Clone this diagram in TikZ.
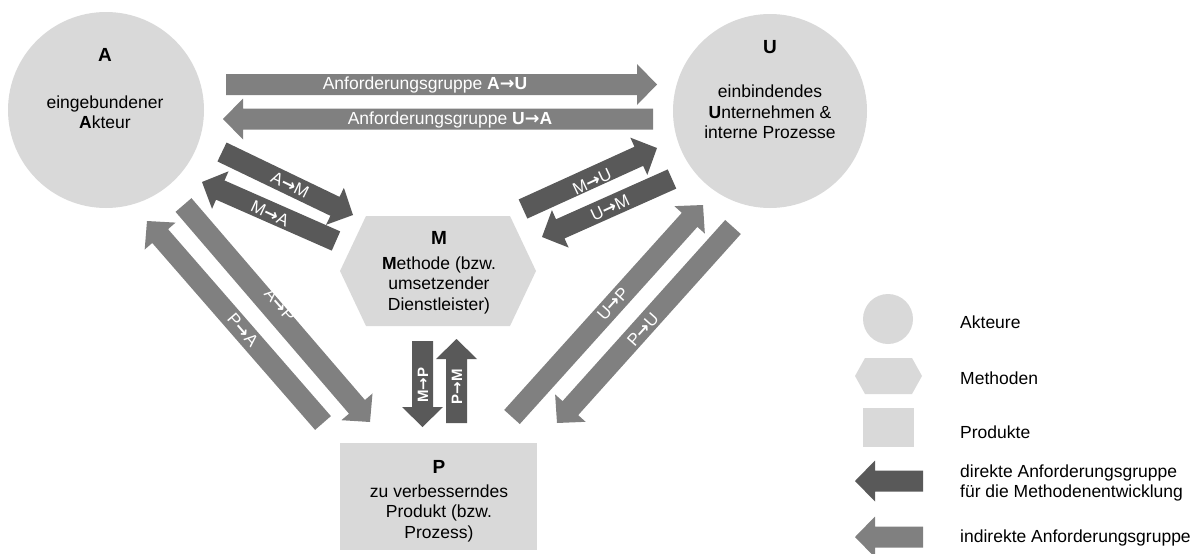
\documentclass[tikz,border=0pt]{standalone}
\usepackage{fontspec}
\setmainfont{Liberation Sans}
\newfontfamily\arrowfont{DejaVu Sans}
\usetikzlibrary{calc}

\definecolor{shapefill}{HTML}{D9D9D9}
\definecolor{directarrow}{HTML}{595959}
\definecolor{indirectarrow}{HTML}{808080}

% arrow glyph used inside the labels
\newcommand\toarrow{{\arrowfont\bfseries →}}

\tikzset{
  bodytext/.style={font=\fontsize{17.5}{20.5}\selectfont, align=center, text=black, inner sep=0pt},
  titletext/.style={font=\bfseries\fontsize{19}{22}\selectfont, text=black, inner sep=0pt},
  arrowlabel/.style={font=\fontsize{17}{18}\selectfont, text=white, inner sep=0pt},
  boldlabel/.style={font=\bfseries\fontsize{15}{18}\selectfont, text=white, inner sep=0pt},
  legendtext/.style={font=\fontsize{17.5}{20.5}\selectfont, align=left, anchor=west, text=black, inner sep=0pt},
}

% block arrow with a 21pt shaft and a 41pt wide, 20pt long head,
% filled with #1, running from coordinate #2 (tail) to #3 (tip)
\newcommand\blockarrow[3]{%
  \fill[#1]
    let \p1 = ($(#3)-(#2)$),
        \n1 = {atan2(\y1,\x1)},
        \p2 = ($(#3)!20pt!(#2)$)
    in ($(#2)+(\n1+90:10.5pt)$)
    -- ($(\p2)+(\n1+90:10.5pt)$)
    -- ($(\p2)+(\n1+90:20.5pt)$)
    -- (#3)
    -- ($(\p2)+(\n1-90:20.5pt)$)
    -- ($(\p2)+(\n1-90:10.5pt)$)
    -- ($(#2)+(\n1-90:10.5pt)$)
    -- cycle;}

\begin{document}
\begin{tikzpicture}[x=1pt,y=-1pt]
\useasboundingbox (0,0) rectangle (1199,554);

% --- actors, method and product ---
\node[circle, fill=shapefill, minimum size=196pt, inner sep=0pt] (A) at (106,110) {};
\node[titletext] (Atitle) at (105,55) {A};
\node[bodytext] (Atext) at (105,112) {eingebundener\\\textbf{A}kteur};

\node[circle, fill=shapefill, minimum size=194pt, inner sep=0pt] (U) at (770,111) {};
\node[titletext] (Utitle) at (770,47) {U};
\node[bodytext] (Utext) at (770,112) {einbindendes\\\textbf{U}nternehmen \&\\interne Prozesse};

\fill[shapefill] (340,271) -- (366,216) -- (510,216) -- (536,271) -- (510,326) -- (366,326) -- cycle;
\node[titletext] (Mtitle) at (439,238) {M};
\node[bodytext] (Mtext) at (439,285) {\textbf{M}ethode (bzw.\\umsetzender\\Dienstleister)};

\node[rectangle, fill=shapefill, minimum width=197pt, minimum height=107pt, inner sep=0pt] (P) at (438.5,496.5) {};
\node[titletext] (Ptitle) at (439,467) {P};
\node[bodytext] (Ptext) at (439,513) {zu verbesserndes\\Produkt (bzw.\\Prozess)};

% --- arrow end points ---
\coordinate (AUtail) at (226,84.5);  \coordinate (AUtip) at (657,84.5);
\coordinate (UAtail) at (653,119);   \coordinate (UAtip) at (223,119);
\coordinate (AMtail) at (222,152);   \coordinate (AMtip) at (353,215);
\coordinate (MAtail) at (336,241);   \coordinate (MAtip) at (202,182);
\coordinate (MUtail) at (523,209);   \coordinate (MUtip) at (657,148);
\coordinate (UMtail) at (672,179);   \coordinate (UMtip) at (542,237);
\coordinate (APtail) at (183.5,205); \coordinate (APtip) at (370,422);
\coordinate (PAtail) at (323,423);   \coordinate (PAtip) at (147,221);
\coordinate (UPtail) at (512,417);   \coordinate (UPtip) at (703,205);
\coordinate (PUtail) at (733,227);   \coordinate (PUtip) at (557,423);
\coordinate (MPtail) at (422.5,341); \coordinate (MPtip) at (422.5,427);
\coordinate (PMtail) at (456.5,423); \coordinate (PMtip) at (456.5,339);

% indirect requirement groups
\blockarrow{indirectarrow}{AUtail}{AUtip}
\blockarrow{indirectarrow}{UAtail}{UAtip}
\blockarrow{indirectarrow}{APtail}{APtip}
\blockarrow{indirectarrow}{PAtail}{PAtip}
\blockarrow{indirectarrow}{UPtail}{UPtip}
\blockarrow{indirectarrow}{PUtail}{PUtip}

% direct requirement groups for the method
\blockarrow{directarrow}{AMtail}{AMtip}
\blockarrow{directarrow}{MAtail}{MAtip}
\blockarrow{directarrow}{MUtail}{MUtip}
\blockarrow{directarrow}{UMtail}{UMtip}
\blockarrow{directarrow}{MPtail}{MPtip}
\blockarrow{directarrow}{PMtail}{PMtip}

% arrow labels
\node[arrowlabel, font=\fontsize{17.5}{20}\selectfont] (AUlabel) at (425,84.5) {Anforderungsgruppe \textbf{A\toarrow U}};
\node[arrowlabel, font=\fontsize{17.5}{20}\selectfont] (UAlabel) at (450,119.5) {Anforderungsgruppe \textbf{U\toarrow A}};
\node[arrowlabel, rotate=-26] (AMlabel) at (290,185) {A\toarrow M};
\node[arrowlabel, rotate=-25] (MAlabel) at (270,214) {M\toarrow A};
\node[arrowlabel, rotate=25] (MUlabel) at (592,182) {M\toarrow U};
\node[arrowlabel, rotate=25] (UMlabel) at (610,208) {U\toarrow M};
\node[arrowlabel, rotate=-49] (APlabel) at (280,305) {A\toarrow P};
\node[arrowlabel, rotate=-49] (PAlabel) at (243,330) {P\toarrow A};
\node[arrowlabel, rotate=48] (UPlabel) at (613,304) {U\toarrow P};
\node[arrowlabel, rotate=48] (PUlabel) at (643,330) {P\toarrow U};
\node[boldlabel, rotate=90] (MPlabel) at (423,385) {M\toarrow P};
\node[boldlabel, rotate=90] (PMlabel) at (457,387) {P\toarrow M};

% --- legend ---
\node[circle, fill=shapefill, minimum size=50pt, inner sep=0pt] (legA) at (888,319) {};
\node[legendtext] (legAtext) at (960,322) {Akteure};

\fill[shapefill] (855,376) -- (865,358) -- (912,358) -- (922,376) -- (912,394) -- (865,394) -- cycle;
\coordinate (legM) at (888.5,376);
\node[legendtext] (legMtext) at (960,378) {Methoden};

\node[rectangle, fill=shapefill, minimum width=51pt, minimum height=39pt, inner sep=0pt] (legP) at (888.5,427.5) {};
\node[legendtext] (legPtext) at (960,432) {Produkte};

\coordinate (legDtail) at (923,481); \coordinate (legDtip) at (855,481);
\blockarrow{directarrow}{legDtail}{legDtip}
\node[legendtext] (legDtext) at (960,483) {direkte Anforderungsgruppe\\für die Methodenentwicklung};

\coordinate (legItail) at (923,537); \coordinate (legItip) at (855,537);
\blockarrow{indirectarrow}{legItail}{legItip}
\node[legendtext] (legItext) at (960,538) {indirekte Anforderungsgruppe};
\end{tikzpicture}
\end{document}
